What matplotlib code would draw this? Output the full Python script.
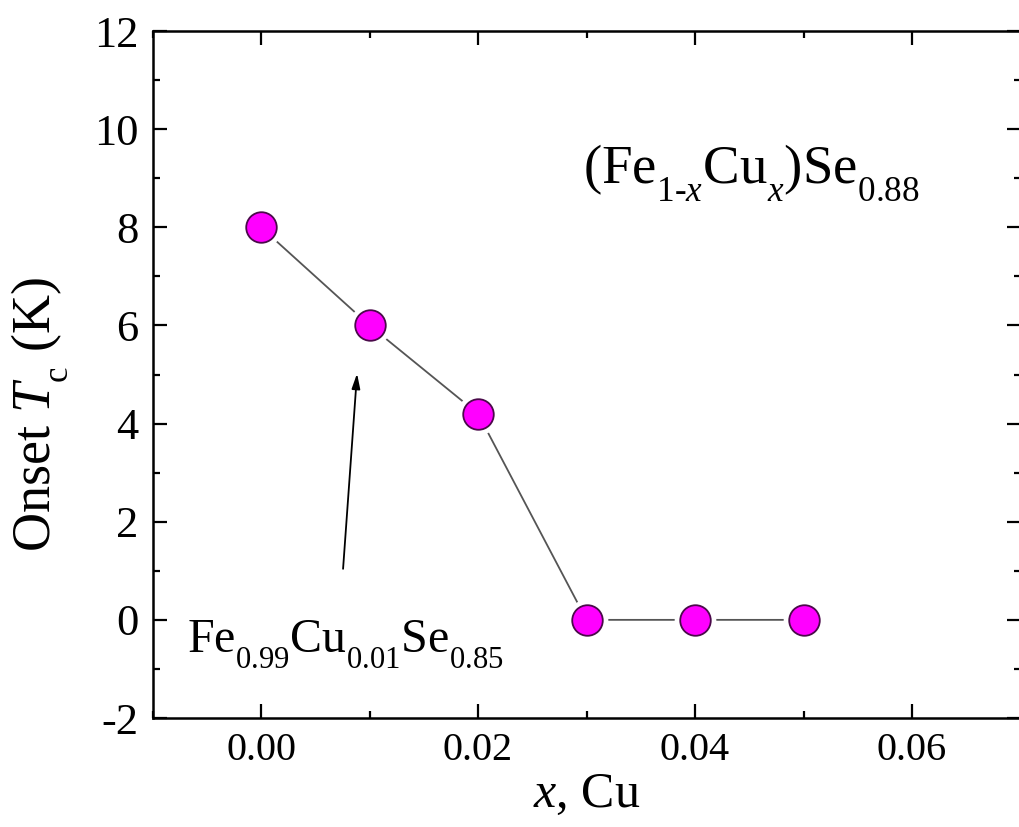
import matplotlib
matplotlib.use('Agg')
import matplotlib.pyplot as plt
from matplotlib.ticker import MultipleLocator

# data
x_cu = [0.00, 0.01, 0.02, 0.03, 0.04, 0.05]
tc_onset = [8.0, 6.0, 4.2, 0.0, 0.0, 0.0]

plt.rcParams['font.family'] = ['Liberation Serif', 'DejaVu Serif']
plt.rcParams['mathtext.fontset'] = 'custom'
plt.rcParams['mathtext.rm'] = 'Liberation Serif'
plt.rcParams['mathtext.it'] = 'Liberation Serif:italic'
plt.rcParams['axes.unicode_minus'] = False

# Origin-style subscripts: smaller and dropped lower than mathtext default
try:
    from matplotlib import _mathtext
    _mathtext.FontConstantsBase.sub1 = 0.75
    _mathtext.SHRINK_FACTOR = 0.64
except Exception:
    pass

fig = plt.figure(figsize=(10.19, 8.27), dpi=100)
ax = fig.add_axes([0.1497, 0.1318, 0.8518, 0.8307])

# connecting line with small gaps around the markers
ax.plot(x_cu, tc_onset, '-', color='#555555', lw=1.3, zorder=1)
ax.plot(x_cu, tc_onset, 'o', ms=29, mfc='white', mec='white', zorder=2)
ax.plot(x_cu, tc_onset, 'o', ms=22, mfc='#ff00ff', mec='#4a0a4a', mew=1.3, zorder=3)

ax.set_xlim(-0.01, 0.07)
ax.set_ylim(-2, 12)
ax.xaxis.set_minor_locator(MultipleLocator(0.01))
ax.yaxis.set_major_locator(MultipleLocator(2))
ax.yaxis.set_minor_locator(MultipleLocator(1))
ax.set_xticks([0.00, 0.02, 0.04, 0.06])
ax.set_xticklabels(['0.00', '0.02', '0.04', '0.06'])

ax.tick_params(which='both', direction='in', top=True, right=True, width=1.6)
ax.tick_params(which='major', length=10)
ax.tick_params(which='minor', length=5)
ax.tick_params(axis='x', labelsize=29, pad=10)
ax.tick_params(axis='y', labelsize=32, pad=10)
for s in ax.spines.values():
    s.set_linewidth(1.8)
# right frame sits just outside the cropped picture
ax.spines['right'].set_visible(False)

ax.set_xlabel(r'$x$, Cu', fontsize=36, labelpad=2)
ax.set_ylabel(r'Onset $T_{\mathrm{c}}$ (K)', fontsize=39)
ax.yaxis.set_label_coords(-0.094, 0.441)

ax.text(0.0297, 8.9, r'(Fe$_{1\text{-}x}$Cu$_{x}$)Se$_{0.88}$', fontsize=39.5)
ax.text(-0.0068, -0.67, r'Fe$_{0.99}$Cu$_{0.01}$Se$_{0.85}$', fontsize=34.5)

ax.annotate('', xy=(0.00885, 5.02), xytext=(0.00756, 1.04),
            arrowprops=dict(arrowstyle='-|>,head_length=0.9,head_width=0.25',
                            color='black', lw=1.3, shrinkA=0, shrinkB=0))

fig.savefig('out.png', dpi=100)
